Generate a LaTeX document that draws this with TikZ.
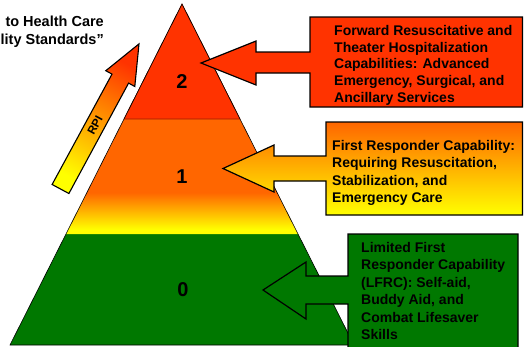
\documentclass[tikz,border=0pt]{standalone}
\usepackage{fontspec}
\setmainfont{Liberation Sans}
\definecolor{levelred}{RGB}{255, 51, 0}
\definecolor{levelorange}{RGB}{255, 102, 0}
\definecolor{levelgreen}{RGB}{0, 120, 0}
\definecolor{rpiorange}{RGB}{255, 160, 0}
\pgfdeclareverticalshading{levelone}{100bp}{color(0bp)=(yellow); color(27bp)=(yellow); color(43bp)=(levelorange); color(100bp)=(levelorange)}

\begin{document}
\begin{tikzpicture}[x=1pt, y=-1pt,
                    edge/.style={draw=black, line width=0.6pt},
                    tab/.style={draw=black, line width=1.2pt, line join=miter},
                    boxtext/.style={anchor=north west, align=left, inner sep=0pt, font=\bfseries\fontsize{14}{17.5}\selectfont},
                    level/.style={inner sep=0pt, font=\bfseries\fontsize{20}{22}\selectfont}]
                    \clip (0,0) rectangle (524,346);
                    % pyramid, bottom layer first
                    \fill[levelgreen] (66,234) -- (298,234) -- (354,345) -- (10,345) -- cycle;
                    \shade[shading=levelone] (124,119) -- (240,119) -- (298,234) -- (66,234) -- cycle;
                    \draw[fill=levelred, draw=levelred!60!black, line width=0.6pt] (182,4) -- (240,119) -- (124,119) -- cycle;
                    \draw[edge] (10,345) -- (182,4) -- (354,345) -- cycle;
                    \node[level] (two) at (182,82) {2};
                    \node[level] (one) at (182,177) {1};
                    \node[level] (zero) at (183,290) {0};
                    % heading and RPI arrow
                    \node[anchor=north east, align=right, inner sep=0pt, font=\bfseries\fontsize{14.5}{17.6}\selectfont] (motto) at (104,16) {to Health Care\\lity Standards”};
                    \shadedraw[line width=1.1pt, line join=miter, top color=levelred, middle color=rpiorange, bottom color=yellow, shading angle=-28.4]
                        (52.1,184.5) -- (112,74.1) -- (105.8,70.7) -- (139,43.9) -- (134.8,86.5) -- (128.6,83.1) -- (68.9,193.5) -- cycle;
                    \node[rotate=61.6, inner sep=0pt, font=\bfseries\fontsize{11.5}{12}\selectfont] (rpi) at (95,125) {RPI};
                    % capability boxes
                    \draw[tab, fill=levelred] (310,17) -- (522.5,17) -- (522.5,107) -- (310,107) -- (310,73) -- (256,73) -- (256,85)
                        -- (201,63) -- (256,41) -- (256,52) -- (310,52) -- cycle;
                    \node[boxtext, font=\bfseries\fontsize{14}{16.7}\selectfont] (forward) at (334,25) {Forward Resuscitative and\\Theater Hospitalization\\Capabilities: Advanced\\Emergency, Surgical, and\\Ancillary Services};
                    \shadedraw[tab, top color=levelorange, bottom color=yellow] (326,122) -- (522.5,122) -- (522.5,215) -- (326,215) -- (326,181) -- (274,181) -- (274,192)
                        -- (223,168.5) -- (274,145) -- (274,156) -- (326,156) -- cycle;
                    \node[boxtext] (first) at (332,140) {First Responder Capability:\\Requiring Resuscitation,\\Stabilization, and\\Emergency Care};
                    \draw[tab, fill=levelgreen] (348,234) -- (518,234) -- (518,360) -- (348,360) -- (348,304) -- (306,304) -- (306,319)
                        -- (263,290) -- (306,262) -- (306,276) -- (348,276) -- cycle;
                    \node[boxtext] (limited) at (361,242) {Limited First\\Responder Capability\\(LFRC): Self-aid,\\Buddy Aid, and\\Combat Lifesaver\\Skills};
                \end{tikzpicture}
\end{document}
